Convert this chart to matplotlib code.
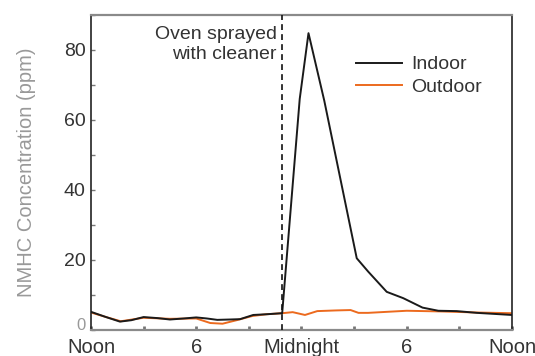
import matplotlib
matplotlib.use("Agg")
import matplotlib.pyplot as plt
import matplotlib.transforms as mtransforms
from matplotlib.ticker import MultipleLocator, FixedLocator

plt.rcParams['font.family'] = ['Liberation Sans', 'DejaVu Sans']

# hours since noon
indoor_x = [0, 0.8, 1.65, 2.3, 3.0, 3.8, 4.5, 5.3, 6.0, 6.6, 7.2, 7.9, 8.5, 9.25, 10.0, 10.9,
            11.9, 12.4, 13.3, 15.15, 15.8, 16.86, 17.8, 18.9, 19.8, 20.85, 22.0, 24.0]
indoor_y = [5.2, 3.8, 2.4, 2.8, 3.7, 3.4, 3.0, 3.3, 3.6, 3.3, 2.9, 3.0, 3.1, 4.3, 4.5, 4.8,
            66, 84.8, 65.5, 20.5, 16.7, 10.9, 9.1, 6.4, 5.5, 5.4, 4.9, 4.3]

outdoor_x = [0, 1.0, 1.7, 3.0, 4.5, 6.0, 6.8, 7.5, 8.3, 9.2, 10.0, 10.9, 11.5, 12.2, 12.9,
             14.0, 14.8, 15.25, 15.8, 18.0, 20.0, 22.0, 24.0]
outdoor_y = [5.0, 3.5, 2.5, 3.5, 3.2, 3.3, 2.0, 1.8, 2.8, 4.0, 4.5, 4.8, 5.1, 4.3, 5.4,
             5.6, 5.7, 4.9, 4.9, 5.5, 5.3, 5.0, 4.8]

event_x = 10.9
xtick_pos = [0, 6, 12, 18, 24]
xtick_labels = ['Noon', '6', 'Midnight', '6', 'Noon']
ytick_pos = [0, 20, 40, 60, 80]

fig = plt.figure(figsize=(5.35, 3.56), dpi=100)
ax = fig.add_axes([0.170, 0.073, 0.787, 0.885])

ax.plot(indoor_x, indoor_y, color='#1a1a1a', lw=1.4, label='Indoor', zorder=3)
ax.plot(outdoor_x, outdoor_y, color='#ec6a1e', lw=1.4, label='Outdoor', zorder=2)
ax.axvline(event_x, color='#111111', lw=1.2, ls=(0, (3.5, 2.5)), zorder=4)

ax.set_xlim(0, 24)
ax.set_ylim(0, 90)
ax.xaxis.set_major_locator(FixedLocator(xtick_pos))
ax.set_xticklabels(xtick_labels)
ax.xaxis.set_minor_locator(MultipleLocator(3))
ax.yaxis.set_major_locator(FixedLocator(ytick_pos))
ax.yaxis.set_minor_locator(MultipleLocator(10))

ax.tick_params(axis='both', which='both', direction='in', colors='#777777',
               labelcolor='#333333')
ax.tick_params(axis='x', which='both', length=3, width=2, pad=6, labelsize=14.5)
ax.tick_params(axis='y', which='both', length=3, width=1, pad=4, labelsize=14)

for s in ['top', 'bottom']:
    ax.spines[s].set_color('#8a8a8a')
    ax.spines[s].set_linewidth(1.6)
for s in ['left', 'right']:
    ax.spines[s].set_color('#222222')
    ax.spines[s].set_linewidth(1.2)

ax.set_ylabel('NMHC Concentration (ppm)', color='#999999', fontsize=14.5, labelpad=20)

ax.text(0.441, 0.965, 'Oven sprayed\nwith cleaner', transform=ax.transAxes,
        ha='right', va='top', fontsize=14, color='#333333', linespacing=1.2)

ax.legend(loc='upper left', bbox_to_anchor=(0.61, 0.895), frameon=False, fontsize=14,
          handlelength=2.4, handletextpad=0.45, labelspacing=0.25, borderaxespad=0,
          labelcolor='#333333')

fig.canvas.draw()
zero_lbl = ax.get_yticklabels()[0]
zero_lbl.set_transform(zero_lbl.get_transform() +
                       mtransforms.ScaledTranslation(0, 4 / 72, fig.dpi_scale_trans))
zero_lbl.set_color('#999999')
zero_lbl.set_fontsize(12)

fig.savefig('out.png', dpi=100)
